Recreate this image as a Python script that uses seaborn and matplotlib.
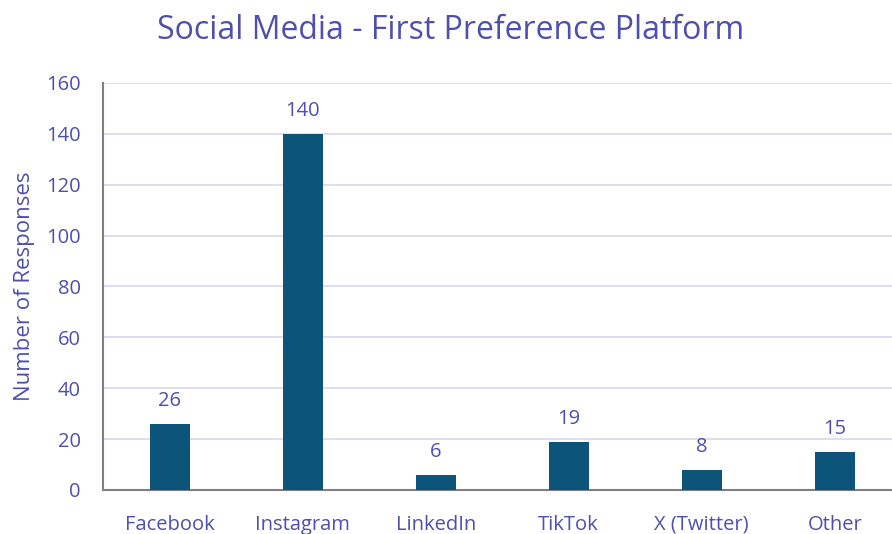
import matplotlib
matplotlib.use("Agg")
import matplotlib.pyplot as plt
import seaborn as sns
import pandas as pd

platforms = ["Facebook", "Instagram", "LinkedIn", "TikTok", "X (Twitter)", "Other"]
responses = [26, 140, 6, 19, 8, 15]

bar_color = "#0c5479"
text_color = "#4f4fae"

sns.set_theme(style="white")
plt.rcParams["font.family"] = ["Open Sans", "DejaVu Sans"]

df = pd.DataFrame({"Platform": platforms, "Responses": responses})

fig = plt.figure(figsize=(8.92, 5.34), dpi=100)
ax = fig.add_axes([0.1155, 0.0824, 0.8845, 0.7622])

sns.barplot(data=df, x="Platform", y="Responses", color=bar_color,
            width=0.3, saturation=1, linewidth=0, ax=ax, zorder=3)

# value labels above bars
for i, v in enumerate(responses):
    ax.text(i, v + 5, str(v), ha="center", va="bottom",
            fontsize=14.5, color=text_color)

ax.set_ylim(0, 160)
ax.set_yticks(range(0, 161, 20))
ax.set_xlim(-0.5, 5.43)
ax.yaxis.grid(True, color="#d8d8ee", linewidth=1.2, zorder=0)
ax.set_axisbelow(True)

for side in ["top", "right"]:
    ax.spines[side].set_visible(False)
for side in ["left", "bottom"]:
    ax.spines[side].set_color("#7f7f7f")
    ax.spines[side].set_linewidth(1.5)

ax.tick_params(axis="both", colors=text_color, labelsize=14.5, length=0)
ax.tick_params(axis="x", pad=18)
ax.tick_params(axis="y", pad=16)
ax.set_xlabel("")
ax.set_ylabel("Number of Responses", fontsize=16, color=text_color, labelpad=8)
fig.text(0.505, 0.943, "Social Media - First Preference Platform",
         ha="center", va="center", fontsize=23, color=text_color)

fig.savefig("out.png", dpi=100)
